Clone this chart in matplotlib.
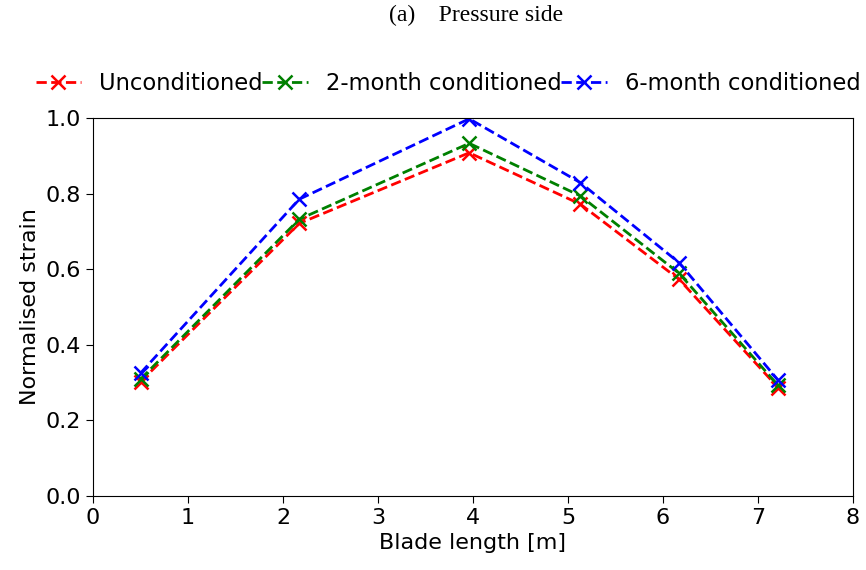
import matplotlib
matplotlib.use("Agg")
import matplotlib.pyplot as plt

blade_length = [0.5, 2.17, 3.96, 5.13, 6.17, 7.21]
unconditioned = [0.302, 0.721, 0.908, 0.772, 0.573, 0.287]
month2 = [0.309, 0.732, 0.933, 0.794, 0.589, 0.293]
month6 = [0.325, 0.785, 0.998, 0.829, 0.617, 0.307]

labels = ["Unconditioned", "2-month conditioned", "6-month conditioned"]
colors = ["red", "green", "blue"]

plt.rcParams['font.size'] = 16
fig = plt.figure(figsize=(8.66, 5.7), dpi=100)
ax = fig.add_axes([93/866, 1-496/570, (853-93)/866, (496-118)/570])

for ys, lab, c in zip([unconditioned, month2, month6], labels, colors):
    ax.plot(blade_length, ys, linestyle='--', color=c, marker='x',
            markersize=10, markeredgewidth=1.8, linewidth=2, label=lab)

ax.set_xlim(0, 8)
ax.set_ylim(0, 1.0)
ax.set_xticks(range(0, 9))
ax.set_yticks([0.0, 0.2, 0.4, 0.6, 0.8, 1.0])
ax.set_xlabel("Blade length [m]")
ax.set_ylabel("Normalised strain")
ax.tick_params(length=5)

fig.legend(loc='center', bbox_to_anchor=(448/866, 1-83/570), ncol=3,
           frameon=False, columnspacing=0.0, handletextpad=0.8,
           borderaxespad=0, borderpad=0, fontsize=16.3)

fig.text(476/866, 1-15/570, "(a)    Pressure side", ha='center', va='center',
         family='Liberation Serif', fontsize=17)

fig.savefig("out.png", dpi=100)
